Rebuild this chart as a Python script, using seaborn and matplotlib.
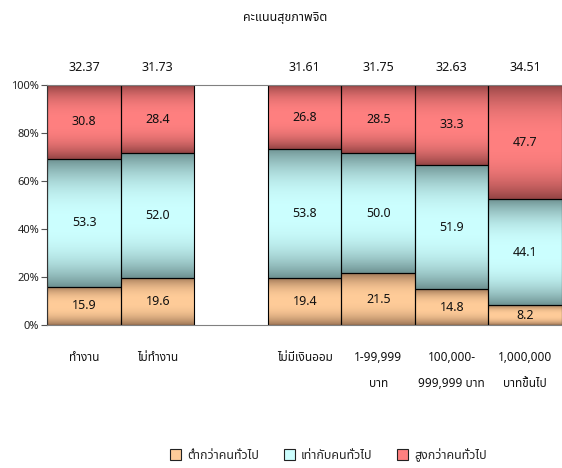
import numpy as np
import pandas as pd
import matplotlib
matplotlib.use("Agg")
import matplotlib.pyplot as plt
from matplotlib import font_manager
from matplotlib.patches import Patch
import seaborn as sns

# data
categories = ["ทำงาน", "ไม่ทำงาน", " ", "ไม่มีเงินออม", "1-99,999\nบาท",
              "100,000-\n999,999 บาท", "1,000,000\nบาทขึ้นไป"]
lower = [15.9, 19.6, 0, 19.4, 21.5, 14.8, 8.2]
equal = [53.3, 52.0, 0, 53.8, 50.0, 51.9, 44.1]
higher = [30.8, 28.4, 0, 26.8, 28.5, 33.3, 47.7]
totals = [32.37, 31.73, None, 31.61, 31.75, 32.63, 34.51]
series_names = ["ต่ำกว่าคนทั่วไป", "เท่ากับคนทั่วไป", "สูงกว่าคนทั่วไป"]
title = "คะแนนสุขภาพจิต"


def find_thai_font():
    # look for any installed font that has Thai glyphs
    try:
        from fontTools.ttLib import TTFont
    except ImportError:
        return None
    found = []
    for f in font_manager.fontManager.ttflist:
        try:
            tt = TTFont(f.fname, fontNumber=0, lazy=True)
            cmap = tt.getBestCmap()
            if cmap and 0x0E17 in cmap and 0x0E48 in cmap:
                found.append(f.name)
        except Exception:
            pass
    for pref in ["Tahoma", "Noto Sans Thai", "Noto Sans Thai UI", "Loma", "Garuda"]:
        if pref in found:
            return pref
    return found[0] if found else None


sns.set_theme(style="white")
thai = find_thai_font()
fams = ([thai] if thai else []) + ["DejaVu Sans"]
plt.rcParams["font.family"] = fams

df = pd.DataFrame({"cat": categories, "lower": lower, "equal": equal, "higher": higher})
bottom2 = df["lower"].values
bottom3 = (df["lower"] + df["equal"]).values

fig = plt.figure(figsize=(5.62, 4.68), dpi=100)
ax = fig.add_axes([0.0845, 0.3056, 0.9155, 0.5128])

sns.barplot(data=df, x="cat", y="lower", order=categories, color="#FFCC99",
            width=1.0, errorbar=None, saturation=1, ax=ax)
sns.barplot(data=df, x="cat", y="equal", order=categories, color="#CCFFFF",
            width=1.0, errorbar=None, saturation=1, bottom=bottom2, ax=ax)
sns.barplot(data=df, x="cat", y="higher", order=categories, color="#FF8080",
            width=1.0, errorbar=None, saturation=1, bottom=bottom3, ax=ax)

mids = {"lower": np.array([255, 204, 153]) / 255,
        "equal": np.array([204, 255, 255]) / 255,
        "higher": np.array([255, 128, 128]) / 255}
edges = {"lower": np.array([158, 118, 86]) / 255,
         "equal": np.array([110, 146, 146]) / 255,
         "higher": np.array([148, 68, 68]) / 255}
keys = ["lower"] * 7 + ["equal"] * 7 + ["higher"] * 7

# vertical gradient in each segment, dark at the edges and light in the middle
t = np.linspace(0, 1, 200)
shape = 1 - np.abs(2 * t - 1) ** 2.4
for patch, key in zip(list(ax.patches), keys):
    x, y = patch.get_x(), patch.get_y()
    w, h = patch.get_width(), patch.get_height()
    if h <= 0:
        patch.remove()
        continue
    grad = edges[key][None, :] + (mids[key] - edges[key])[None, :] * shape[:, None]
    ax.imshow(grad[:, None, :], extent=[x, x + w, y, y + h], aspect="auto",
              origin="lower", zorder=1, interpolation="bilinear")
    patch.set_facecolor("none")
    patch.set_edgecolor("black")
    patch.set_linewidth(0.8)
    patch.set_zorder(2)
    ax.text(x + w / 2, y + h / 2, f"{h:.1f}", ha="center", va="center",
            fontsize=9, color="#111111", zorder=3)

for i, tot in enumerate(totals):
    if tot is not None:
        ax.text(i, 104.5, f"{tot:.2f}", ha="center", va="bottom", fontsize=9,
                color="#111111", clip_on=False)

ax.set_xlim(-0.5, 6.5)
ax.set_ylim(0, 100)
ax.set_yticks([0, 20, 40, 60, 80, 100])
ax.set_yticklabels([f"{v}%" for v in range(0, 101, 20)], fontsize=8, color="#222222")
ax.tick_params(axis="y", length=4, width=0.8, color="#555555", left=True, pad=2)
ax.tick_params(axis="x", length=0, pad=19)
ax.set_xticks(range(len(categories)))
ax.set_xticklabels(categories, fontsize=8.5, color="#111111", linespacing=2.25, va="top")
ax.set_xlabel("")
ax.set_ylabel("")
for side in ["top", "right", "bottom"]:
    ax.spines[side].set_color("#808080")
    ax.spines[side].set_linewidth(0.8)
ax.spines["left"].set_color("#333333")
ax.spines["left"].set_linewidth(0.8)

fig.text(0.507, 0.963, title, ha="center", va="center", fontsize=9, color="#111111")

handles = [Patch(facecolor=mids[k], edgecolor="#222222", linewidth=0.8)
           for k in ["lower", "equal", "higher"]]
fig.legend(handles, series_names, loc="center", bbox_to_anchor=(0.584, 0.028),
           ncol=3, frameon=False, fontsize=9, handlelength=0.9, handleheight=0.9,
           handletextpad=0.45, columnspacing=2.0)

fig.savefig("out.png", dpi=100)
